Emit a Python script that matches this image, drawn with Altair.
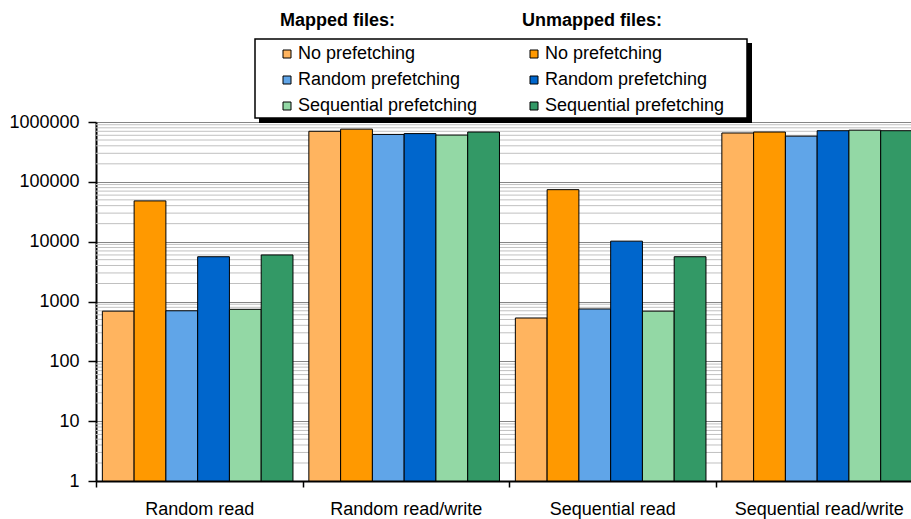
import altair as alt
import pandas as pd

# Workloads on the x axis
workloads = ["Random read", "Random read/write", "Sequential read", "Sequential read/write"]

# Series: file type | prefetching strategy (order = bar order within each group)
series = [
    "Mapped|No prefetching",
    "Unmapped|No prefetching",
    "Mapped|Random prefetching",
    "Unmapped|Random prefetching",
    "Mapped|Sequential prefetching",
    "Unmapped|Sequential prefetching",
]
colors = ["#FFB45F", "#FF9900", "#60A5E8", "#0066CC", "#93D8A5", "#339966"]

# Legend lists the mapped column first, then the unmapped column
legend_order = series[0::2] + series[1::2]
legend_colors = colors[0::2] + colors[1::2]

# Measured values, one list per workload, in series order
random_read = [690, 48000, 700, 5600, 740, 6000]
random_read_write = [700000, 760000, 620000, 640000, 605000, 680000]
sequential_read = [530, 74000, 750, 10200, 690, 5600]
sequential_read_write = [655000, 680000, 580000, 715000, 730000, 715000]

# Y axis decades and minor log gridlines
decades = [1, 10, 100, 1000, 10000, 100000, 1000000]
minor_lines = [m * d for d in decades[:-1] for m in range(2, 10)]

headers = ["Mapped files:", "Unmapped files:"]

rows = []
for w, vals in zip(workloads, [random_read, random_read_write, sequential_read, sequential_read_write]):
    for s, v in zip(series, vals):
        rows.append({"workload": w, "series": s, "value": v})
df = pd.DataFrame(rows)

FONT = "Liberation Sans"
W, H = 815, 359

y_scale = alt.Scale(type="log", domain=[1, 1000000])
y_axis = alt.Axis(
    values=decades, format="d", labelFont=FONT, labelFontSize=18,
    labelColor="black", labelPadding=9, tickSize=8, tickColor="black",
    tickWidth=1.5, domainColor="black", domainWidth=2,
    grid=True, gridColor="#858585", gridWidth=1,
)

minor = alt.Chart(pd.DataFrame({"value": minor_lines})).mark_rule(
    color="#c0c0c0", strokeWidth=1
).encode(y=alt.Y("value:Q", scale=y_scale, axis=y_axis, title=None))

bars = alt.Chart(df).mark_bar(stroke="black", strokeWidth=1, clip=True).encode(
    x=alt.X(
        "workload:N",
        sort=workloads,
        title=None,
        scale=alt.Scale(range=[0, 826], paddingInner=0, paddingOuter=0),
        axis=alt.Axis(
            labelAngle=0, labelFont=FONT, labelFontSize=18, labelColor="black",
            labelPadding=13, tickBand="extent", tickSize=6, tickColor="black",
            tickWidth=1.5, domainColor="black", domainWidth=2, grid=False,
        ),
    ),
    xOffset=alt.XOffset(
        "series:N", sort=series,
        scale=alt.Scale(paddingInner=0, paddingOuter=0.25, align=0.4),
    ),
    y=alt.Y("value:Q", scale=y_scale, title=None, stack=None, axis=y_axis),
    color=alt.Color(
        "series:N",
        scale=alt.Scale(domain=legend_order, range=legend_colors),
        legend=alt.Legend(
            title=None, orient="none", legendX=182, legendY=-77, columns=2,
            columnPadding=47, rowPadding=8, symbolType="square", symbolSize=64,
            symbolStrokeColor="black", symbolStrokeWidth=1, labelFont=FONT,
            labelFontSize=18, labelColor="black", labelOffset=2,
            labelExpr="split(datum.label, '|')[1]", labelLimit=0, padding=0,
        ),
    ),
)

# Legend frame with drop shadow
frame_src = pd.DataFrame({"k": [0]})
shadow = alt.Chart(frame_src).mark_rect(color="black").encode(
    x=alt.value(163), x2=alt.value(656), y=alt.value(-79), y2=alt.value(1)
)
frame = alt.Chart(frame_src).mark_rect(fill="white", stroke="black", strokeWidth=1.5).encode(
    x=alt.value(159), x2=alt.value(651), y=alt.value(-83), y2=alt.value(-4)
)

head_df = pd.DataFrame({"t": headers, "px": [184, 426]})
head = alt.Chart(head_df).mark_text(
    font=FONT, fontSize=18, fontWeight="bold", align="left", baseline="middle", color="black"
).encode(text="t:N", x=alt.X("px:Q", scale=None), y=alt.value(-101))

chart = alt.layer(minor, bars, shadow, frame, head).properties(
    width=W, height=H,
    autosize=alt.AutoSizeParams(type="none"),
    padding={"left": 96, "top": 122, "right": 0, "bottom": 38},
).configure_view(strokeWidth=0).configure(background="white")

chart.save("out.html", embed_options={"renderer": "svg", "actions": False})
